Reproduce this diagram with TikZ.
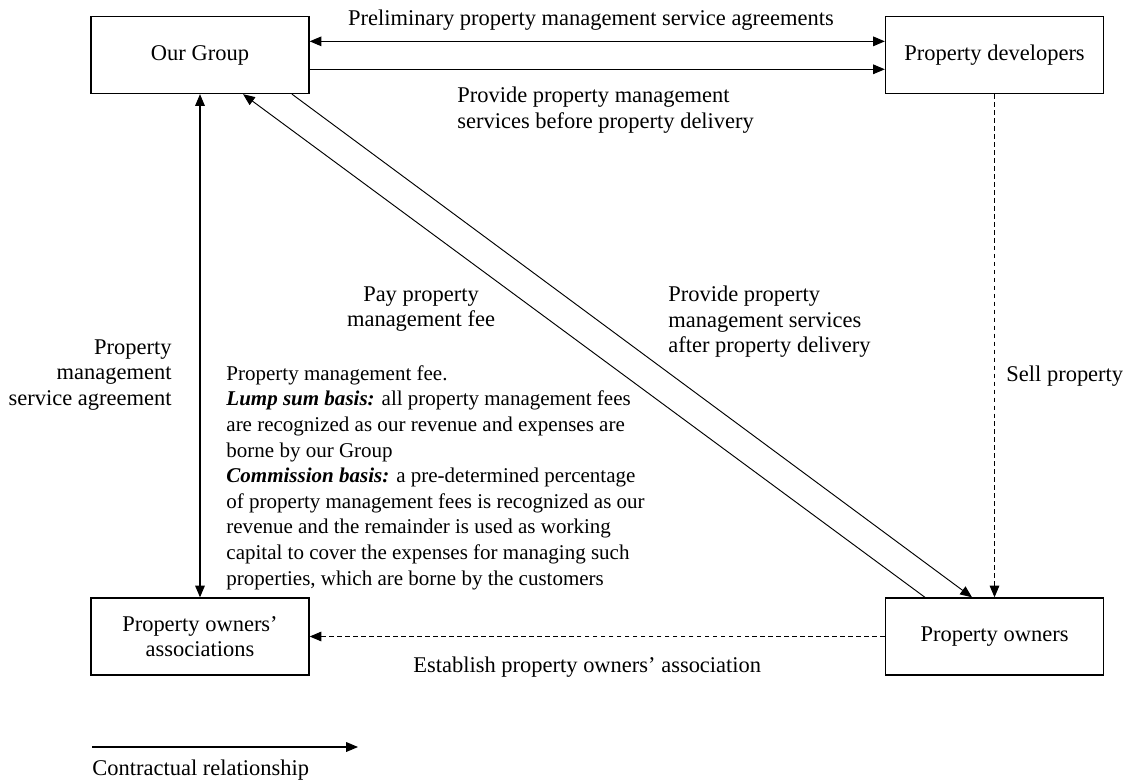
\documentclass[tikz,border=0pt]{standalone}
\usepackage{fontspec}
\setmainfont{Liberation Serif}
\usetikzlibrary{arrows.meta}

\begin{document}
\begin{tikzpicture}[x=0.476pt,y=-0.476pt,
  every node/.style={font=\fontsize{10.7}{12.1}\selectfont},
  party/.style={draw,line width=0.6pt,minimum width=103.8pt,minimum height=36.7pt,align=center},
  oneway/.style={line width=0.5pt,-{Triangle[length=5.6pt,width=4.6pt]}},
  twoway/.style={line width=0.5pt,{Triangle[length=5.6pt,width=4.6pt]}-{Triangle[length=5.6pt,width=4.6pt]}},
  broken/.style={dash pattern=on 2.2pt off 1.6pt}]
\useasboundingbox (0,0) rectangle (1131,780);

\node[party] (grp) at (200,55) {Our Group};
\node[party] (dev) at (994.5,55) {Property developers};
\node[party] (poa) at (200,636.5) {Property owners'\\associations};
\node[party] (own) at (994.5,636.5) {Property owners};

\draw[twoway] ([yshift=6.5pt]grp.east) -- ([yshift=6.5pt]dev.west);
\draw[oneway] ([yshift=-6.8pt]grp.east) -- ([yshift=-6.8pt]dev.west);
\draw[twoway] (grp.south) -- (poa.north);
\draw[oneway,line width=0.45pt] ([xshift=-33.1pt]own.north) -- ([xshift=20.5pt]grp.south);
\draw[oneway,line width=0.45pt] ([xshift=43.8pt]grp.south) -- ([xshift=-10.7pt]own.north);
\draw[oneway,broken] (dev.south) -- (own.north);
\draw[oneway,broken] (own.west) -- (poa.east);

\node (prelim) at (591,20) {Preliminary property management service agreements};
\node[align=left,anchor=west] (before) at (450,110) {Provide property management\\services before property delivery};
\node[align=center] (payfee) at (421,309) {Pay property\\management fee};
\node[align=left,anchor=west] (after) at (661,322) {Provide property\\management services\\after property delivery};
\node[align=right,anchor=east] (psa) at (179,375) {Property\\management\\service agreement};
\node[align=left,anchor=west,font=\fontsize{10}{12.2}\selectfont] (fees) at (219,477.5) {Property management fee.\\
\textbf{\textit{Lump sum basis:}} all property management fees\\
are recognized as our revenue and expenses are\\
borne by our Group\\
\textbf{\textit{Commission basis:}} a pre-determined percentage\\
of property management fees is recognized as our\\
revenue and the remainder is used as working\\
capital to cover the expenses for managing such\\
properties, which are borne by the customers};
\node[anchor=west] (sell) at (999,376) {Sell property};
\node[anchor=west] (estab) at (406,667) {Establish property owners' association};

\coordinate (keyA) at (92,747);
\coordinate (keyB) at (358,747);
\draw[oneway] (keyA) -- (keyB);
\node[anchor=west] (key) at (85,770) {Contractual relationship};
\end{tikzpicture}
\end{document}
